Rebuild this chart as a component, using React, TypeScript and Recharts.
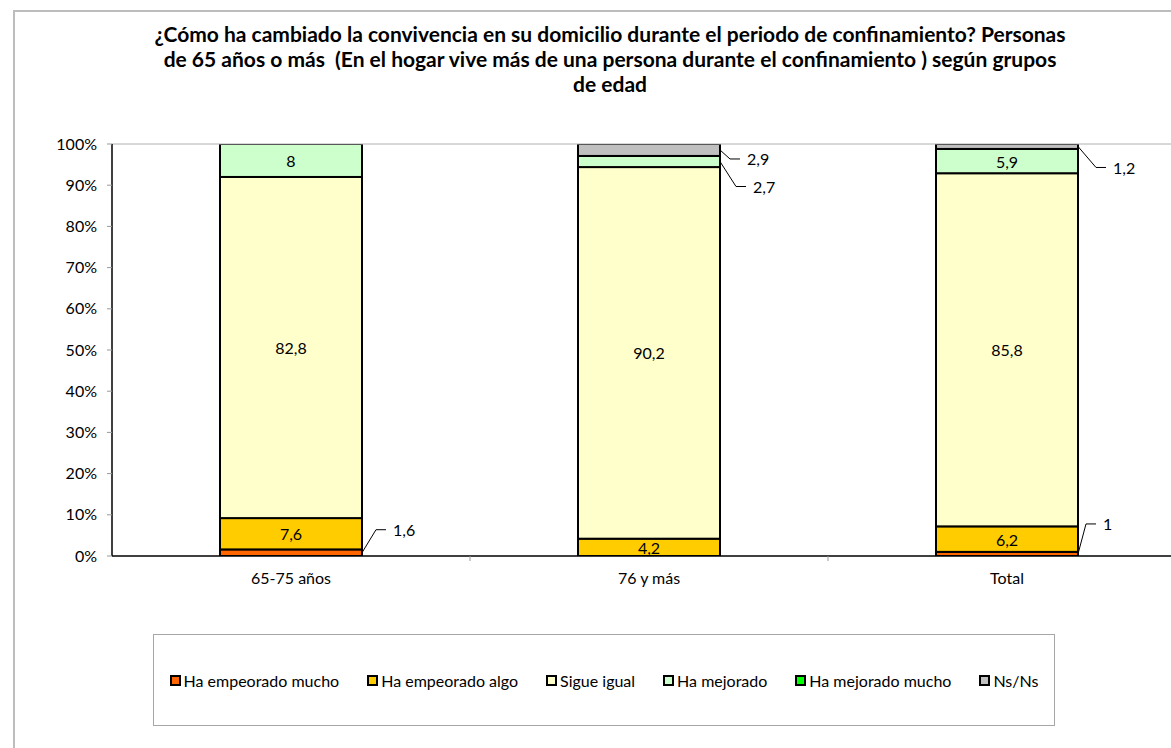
import React from 'react';
import { BarChart, Bar, XAxis, YAxis, LabelList, ReferenceLine } from 'recharts';

const categories = ['65-75 años', '76 y más', 'Total'];
const seriesNames = ['Ha empeorado mucho', 'Ha empeorado algo', 'Sigue igual', 'Ha mejorado', 'Ha mejorado mucho', 'Ns/Ns'];
const haEmpeoradoMucho = [1.6, 0, 1];
const haEmpeoradoAlgo = [7.6, 4.2, 6.2];
const sigueIgual = [82.8, 90.2, 85.8];
const haMejorado = [8, 2.7, 5.9];
const haMejoradoMucho = [0, 0, 0];
const nsNs = [0, 2.9, 1.2];
const yTicks = [0, 0.1, 0.2, 0.3, 0.4, 0.5, 0.6, 0.7, 0.8, 0.9, 1];

const seriesValues = [haEmpeoradoMucho, haEmpeoradoAlgo, sigueIgual, haMejorado, haMejoradoMucho, nsNs];
const colors = ['#FF6600', '#FFCC00', '#FFFFCC', '#CCFFCC', '#00FF00', '#C0C0C0'];
const keys = seriesNames.map((_, i) => 's' + i);

const data = categories.map((c, i) => {
  const row: any = { name: c };
  seriesValues.forEach((vals, j) => {
    row[keys[j]] = vals[i];
  });
  return row;
});

// leader-line offsets (style) for small segments labelled outside the bar
const outside: Record<string, [number, number]> = {
  's0-0': [14, -23],
  's0-2': [8, -30],
  's3-1': [16, 25],
  's5-1': [10, 9],
  's5-2': [18, 21],
};

const CHART_W = 1200;
const CHART_H = 748;
const MARGIN = { top: 144, right: 14, bottom: 162, left: 52 };
const Y_W = 60;
const X_H = 30;
const PLOT_LEFT = MARGIN.left + Y_W;
const PLOT_RIGHT = CHART_W - MARGIN.right;
const HALF_BAND = (PLOT_RIGHT - PLOT_LEFT) / categories.length / 2;
const FONT = 'Lato, "Open Sans", sans-serif';

const SegShape = (props: any) => {
  const { x, y, width, height, fill } = props;
  const h = Math.abs(height || 0);
  if (h < 0.01) return null;
  const top = height < 0 ? y + height : y;
  return <rect x={x} y={top} width={width} height={h} fill={fill} stroke="#000" strokeWidth={2} />;
};

const makeLabel = (key: string) => (props: any) => {
  const vb = props.viewBox || {};
  const x = props.x ?? vb.x;
  const y = props.y ?? vb.y;
  const width = props.width ?? vb.width;
  const height = props.height ?? vb.height;
  const v = Number(props.value);
  if (!v || x == null) return null;
  const text = String(v).replace('.', ',');
  const off = outside[`${key}-${props.index}`];
  if (off) {
    const sx = x + width;
    const sy = y + height / 2;
    const ex = sx + off[0];
    const ey = sy + off[1];
    return (
      <g>
        <polyline points={`${sx},${sy} ${ex},${ey} ${ex + 10},${ey}`} fill="none" stroke="#000" strokeWidth={1} />
        <text x={ex + 17} y={ey} dominantBaseline="central" fontSize={16} fontFamily={FONT} fill="#000">
          {text}
        </text>
      </g>
    );
  }
  return (
    <text x={x + width / 2} y={y + height / 2} textAnchor="middle" dominantBaseline="central" fontSize={16} fontFamily={FONT} fill="#000">
      {text}
    </text>
  );
};

const XTick = (props: any) => {
  const { x, y, payload } = props;
  return (
    <g>
      <text x={x} y={y + 28} textAnchor="middle" fontSize={16} fontFamily={FONT} fill="#000">
        {payload.value}
      </text>
      <line x1={x + HALF_BAND} x2={x + HALF_BAND} y1={y} y2={y + 5} stroke="#999" />
    </g>
  );
};

export default function App() {
  return (
    <div style={{ position: 'absolute', left: 0, top: 0, width: 1171, height: 748, overflow: 'hidden', background: '#fff' }}>
      <div style={{ position: 'absolute', left: 13, top: 10, width: 1400, height: 900, border: '2px solid #bdbdbd' }} />
      <div
        style={{
          position: 'absolute',
          left: 0,
          top: 21,
          width: 1220,
          textAlign: 'center',
          fontFamily: FONT,
          fontWeight: 700,
          fontSize: 21,
          lineHeight: '25px',
          color: '#000',
        }}
      >
        <div>¿Cómo ha cambiado la convivencia en su domicilio durante el periodo de confinamiento? Personas</div>
        <div>de 65 años o más&nbsp; (En el hogar vive más de una persona durante el confinamiento ) según grupos</div>
        <div>de edad</div>
      </div>
      <div style={{ position: 'absolute', left: 0, top: 0 }}>
        <BarChart width={CHART_W} height={CHART_H} data={data} margin={MARGIN} stackOffset="expand" barSize={142}>
          <ReferenceLine y={1} stroke="#b0b0b0" strokeWidth={1} />
          <XAxis
            dataKey="name"
            height={X_H}
            axisLine={{ stroke: '#000', strokeWidth: 1.5 }}
            tickLine={false}
            tickSize={0}
            tickMargin={0}
            tick={<XTick />}
            interval={0}
          />
          <YAxis
            width={Y_W}
            domain={[0, 1]}
            ticks={yTicks}
            allowDataOverflow
            tickFormatter={(v: number) => Math.round(v * 100) + '%'}
            axisLine={{ stroke: '#000', strokeWidth: 1.5 }}
            tickLine={{ stroke: '#999' }}
            tickSize={5}
            tickMargin={10}
            tick={{ fontSize: 16, fontFamily: FONT, fill: '#000' }}
          />
          {keys.map((k, i) => (
            <Bar key={k} dataKey={k} name={seriesNames[i]} stackId="a" fill={colors[i]} shape={<SegShape />} isAnimationActive={false}>
              <LabelList dataKey={k} content={makeLabel(k)} />
            </Bar>
          ))}
        </BarChart>
      </div>
      <div
        style={{
          position: 'absolute',
          left: 153,
          top: 634,
          width: 902,
          height: 92,
          boxSizing: 'border-box',
          border: '1px solid #a6a6a6',
          display: 'flex',
          alignItems: 'center',
          justifyContent: 'center',
          gap: 28,
          fontFamily: FONT,
          fontSize: 16,
          color: '#000',
        }}
      >
        {seriesNames.map((n, i) => (
          <div key={n} style={{ display: 'flex', alignItems: 'center' }}>
            <span
              style={{
                display: 'inline-block',
                width: 11,
                height: 11,
                boxSizing: 'border-box',
                border: '2px solid #000',
                background: colors[i],
                marginRight: 3,
              }}
            />
            <span>{n}</span>
          </div>
        ))}
      </div>
    </div>
  );
}
